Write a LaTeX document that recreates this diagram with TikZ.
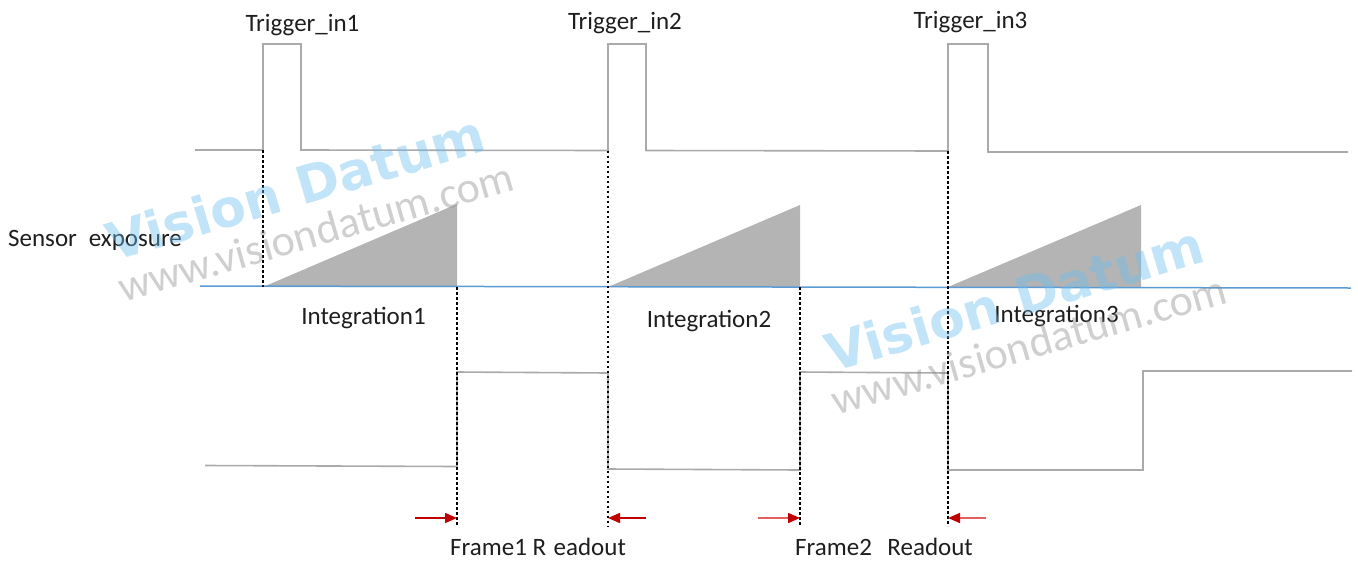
\documentclass[tikz,border=0pt]{standalone}
\usepackage{fontspec}
\setmainfont{Carlito}
\newfontfamily\wmfont{DejaVu Sans}
\usetikzlibrary{arrows.meta}

\definecolor{sig}{RGB}{170,170,170}
\definecolor{axisblue}{RGB}{91,155,213}
\definecolor{ramp}{RGB}{180,180,180}
\definecolor{rdark}{RGB}{192,0,0}
\definecolor{rlight}{RGB}{225,95,95}
\definecolor{wmblue}{RGB}{110,190,238}
\definecolor{wmgray}{RGB}{140,140,140}
\definecolor{ink}{RGB}{30,30,30}

\tikzset{
  signal/.style={draw=sig, line width=1.6pt, line join=miter},
  marker/.style={draw=black, line width=1.3pt, dash pattern=on 2.6pt off 2.4pt},
  readarrow/.style={line width=1.5pt, -{Triangle[length=12pt,width=10pt,color=rdark]}},
  lbl/.style={font=\fontsize{25}{30}\selectfont, text=ink, inner sep=0pt, anchor=base},
  wmlogo/.style={text=wmblue, fill opacity=0.42, inner sep=0pt, anchor=base,
    font=\wmfont\bfseries\fontsize{52}{60}\selectfont},
  wmurl/.style={text=wmgray, fill opacity=0.42, inner sep=0pt, anchor=base,
    font=\fontsize{44}{50}\selectfont}
}

\begin{document}
\begin{tikzpicture}[x=1pt,y=-1pt]
\useasboundingbox (0,0) rectangle (1358,563);

% trigger edges (on the trigger baseline) and integration ends (on the axis)
\coordinate (t1) at (263,150);
\coordinate (t2) at (608,150.5);
\coordinate (t3) at (948,151);
\coordinate (a1) at (263,287);
\coordinate (a2) at (608,287);
\coordinate (a3) at (948,287);
\coordinate (e1) at (457,287);
\coordinate (e2) at (800,287);
\coordinate (e3) at (1141,287);
% lower ends of the marker lines
\coordinate (b1) at (457,526);
\coordinate (b2) at (608,526);
\coordinate (b3) at (800,526);
\coordinate (b4) at (948,526);

% trigger input pulses
\draw[signal] (195,150) -- (t1) -- (263,44) -- (301,44) -- (301,150)
  -- (t2) -- (608,44) -- (646,44) -- (646,150.5)
  -- (t3) -- (948,44) -- (988,44) -- (988,152) -- (1348,152);

% exposure ramps
\fill[ramp] (a1) -- (457,204) -- (e1) -- cycle;
\fill[ramp] (a2) -- (800,205) -- (e2) -- cycle;
\fill[ramp] (a3) -- (1141,205) -- (e3) -- cycle;

% exposure axis
\draw[axisblue, line width=1.5pt] (200,286) -- (1351,288);

% frame readout signal
\draw[signal] (205,465.5) -- (457,466.5) -- (457,372) -- (608,373)
  -- (608,469) -- (800,470) -- (800,372) -- (948,373) -- (948,470)
  -- (1143,470) -- (1143,371) -- (1352,371);

% timing markers
\draw[marker] (t1) -- (a1);
\draw[marker] (e1) -- (b1);
\draw[marker] (t2) -- (b2);
\draw[marker] (e2) -- (b3);
\draw[marker] (t3) -- (b4);

% readout window arrows
\coordinate (r1) at (415,518);
\coordinate (r2) at (646,518);
\coordinate (r3) at (758,518);
\coordinate (r4) at (986,518);
\draw[readarrow, draw=rdark] (r1) -- (457,518);
\draw[readarrow, draw=rdark] (r2) -- (608,518);
\draw[readarrow, draw=rlight] (r3) -- (800,518);
\draw[readarrow, draw=rlight] (r4) -- (948,518);

% labels
\node[lbl] (trg1) at (302.5,31) {Trigger\_in1};
\node[lbl] (trg2) at (625,29) {Trigger\_in2};
\node[lbl] (trg3) at (970.5,28) {Trigger\_in3};
\node[lbl, anchor=base west] (sens) at (8,246) {Sensor\hspace{0.48em}exposure};
\node[lbl] (int1) at (363.5,324) {Integration1};
\node[lbl] (int2) at (709,327) {Integration2};
\node[lbl] (int3) at (1056.5,322) {Integration3};
\node[lbl, anchor=base west] (fr1) at (450,555) {Frame1 R\hspace{0.3em}eadout};
\node[lbl, anchor=base west] (fr2) at (795,555) {Frame2\hspace{0.62em}Readout};

% watermark
\node[wmlogo, rotate=16.5] (wm1) at (301,206) {Vision Datum};
\node[wmurl, rotate=16] (wu1) at (320,246) {www.visiondatum.com};
\node[wmlogo, rotate=16.5] (wm2) at (1020,317) {Vision Datum};
\node[wmurl, rotate=16] (wu2) at (1033,359) {www.visiondatum.com};
\end{tikzpicture}
\end{document}
